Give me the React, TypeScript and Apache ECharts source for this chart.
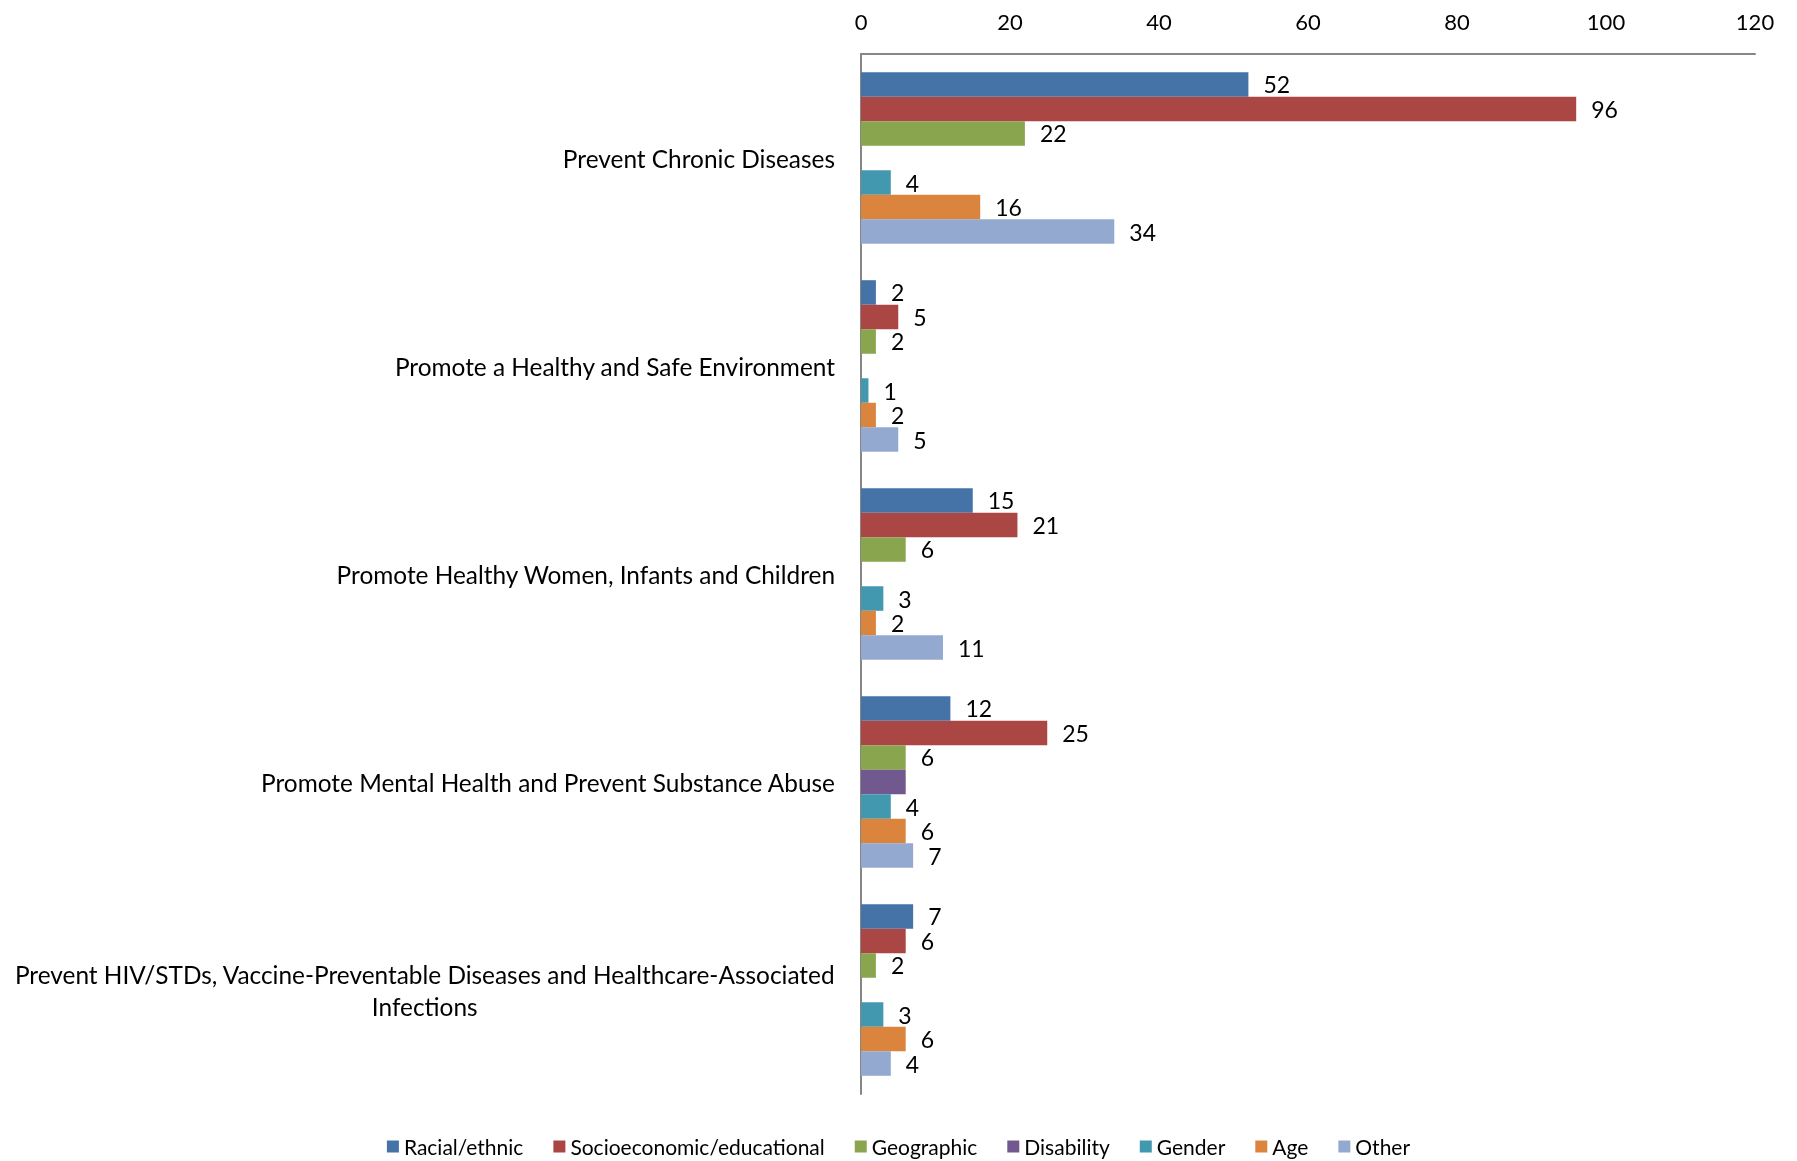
import React, { useEffect, useRef } from "react";
import * as echarts from "echarts";

const categories = [
  "Prevent Chronic Diseases",
  "Promote a Healthy and Safe Environment",
  "Promote Healthy Women, Infants and Children",
  "Promote Mental Health and Prevent Substance Abuse",
  "Prevent HIV/STDs, Vaccine-Preventable Diseases and Healthcare-Associated Infections",
];

const racialEthnic = [52, 2, 15, 12, 7];
const socioeconomic = [96, 5, 21, 25, 6];
const geographic = [22, 2, 6, 6, 2];
const disability = [null, null, null, 6, null];
const gender = [4, 1, 3, 4, 3];
const age = [16, 2, 2, 6, 6];
const other = [34, 5, 11, 7, 4];

const xTicks = { min: 0, max: 120, interval: 20 };

const FONT = "Lato, 'Open Sans', sans-serif";

export default function App() {
  const ref = useRef<HTMLDivElement>(null);
  useEffect(() => {
    if (!ref.current) return;
    const chart = echarts.init(ref.current, null, { renderer: "svg" });
    const seriesDefs = [
      { name: "Racial/ethnic", data: racialEthnic, color: "#4572A7", label: true },
      { name: "Socioeconomic/educational", data: socioeconomic, color: "#AA4643", label: true },
      { name: "Geographic", data: geographic, color: "#89A54E", label: true },
      { name: "Disability", data: disability, color: "#71588F", label: false },
      { name: "Gender", data: gender, color: "#4198AF", label: true },
      { name: "Age", data: age, color: "#DB843D", label: true },
      { name: "Other", data: other, color: "#93A9CF", label: true },
    ];
    chart.setOption({
      animation: false,
      textStyle: { fontFamily: FONT },
      grid: { left: 861, right: 42, top: 54, bottom: 67 },
      legend: {
        bottom: -1,
        left: "center",
        itemWidth: 12,
        itemHeight: 12,
        itemGap: 30,
        icon: "rect",
        textStyle: { fontSize: 21, color: "#000", fontFamily: FONT },
        data: seriesDefs.map((s) => s.name),
      },
      xAxis: {
        type: "value",
        position: "top",
        min: xTicks.min,
        max: xTicks.max,
        interval: xTicks.interval,
        axisLine: { show: true, lineStyle: { color: "#868686", width: 2 } },
        axisTick: { show: false },
        splitLine: { show: false },
        axisLabel: { fontSize: 22, color: "#000", margin: 22, fontFamily: FONT },
      },
      yAxis: {
        type: "category",
        inverse: true,
        data: categories,
        axisLine: { show: true, lineStyle: { color: "#868686", width: 2 } },
        axisTick: { show: false },
        axisLabel: {
          fontSize: 24.4,
          color: "#000",
          margin: 26,
          fontFamily: FONT,
          lineHeight: 32,
          formatter: (v: string) => {
            if (v.length > 60) {
              const idx = v.lastIndexOf(" ");
              return "{c|" + v.slice(0, idx) + "}\n{c|" + v.slice(idx + 1) + "}";
            }
            return v;
          },
          rich: {
            c: { fontSize: 24.4, color: "#000", fontFamily: FONT, align: "center", lineHeight: 32 },
          },
        },
      },
      series: seriesDefs.map((s) => ({
        name: s.name,
        type: "bar",
        data: s.data,
        barGap: "0%",
        barCategoryGap: "17.5%",
        itemStyle: { color: s.color },
        label: {
          show: s.label,
          position: "right",
          distance: 15,
          fontSize: 23,
          color: "#000",
          fontFamily: FONT,
        },
      })),
    });
    return () => chart.dispose();
  }, []);
  return (
    <div
      ref={ref}
      style={{ position: "fixed", left: 0, top: 0, width: 1797, height: 1161 }}
    />
  );
}
